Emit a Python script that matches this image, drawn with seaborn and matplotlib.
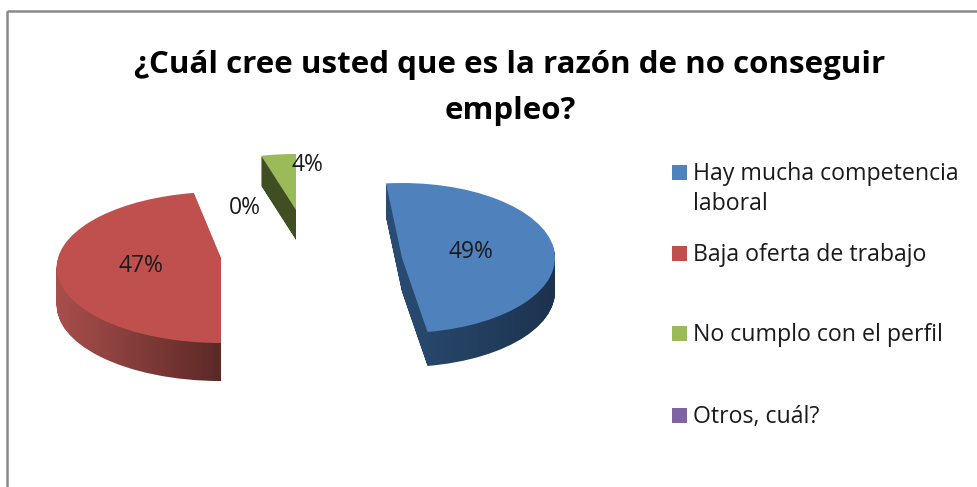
import numpy as np
import seaborn as sns
import matplotlib.pyplot as plt
from matplotlib.colors import LinearSegmentedColormap
from matplotlib.patches import PathPatch, Rectangle
from matplotlib.path import Path
from matplotlib.transforms import Transform

# Chart data
title = "¿Cuál cree usted que es la razón de no conseguir\nempleo?"
categories = ["Hay mucha competencia\nlaboral", "Baja oferta de trabajo", "No cumplo con el perfil", "Otros, cuál?"]
values = [49, 47, 4, 0]

# Colours: top face, then wall gradient left to right
top_colors = sns.color_palette(["#4f81bd", "#c0504d", "#9bbb59", "#8064a2"])
wall_colors = [("#2b4d74", "#1c324e"), ("#a94f4c", "#5c2927"), ("#404f22", "#404f22")]

# Where each slice sits in pixels: cx, cy, rx, ry, perspective, start angle, depth
slice_layout = [
    (402, 258, 153, 75, 0.0, 96, 34),
    (221, 258, 163, 74.4, 0.125, -90, 38),
    (296, 210, 140, 56, 0.0, 104.4, 30),
]
label_pos = [(471, 252), (141, 266), (307, 165), (245, 208)]
legend_y = [172, 253, 333, 415]


class Tilt(Transform):
    # Lays a unit pie wedge flat, with the far edge a bit smaller
    input_dims = output_dims = 2

    def __init__(self, cx, cy, rx, ry, p):
        super().__init__()
        self.vals = (cx, cy, rx, ry, p)

    def transform_non_affine(self, xy):
        cx, cy, rx, ry, p = self.vals
        x, y = np.asarray(xy).T
        w = 1 + p * y
        return np.column_stack([cx + rx * x / w, cy - ry * y / w])


sns.set_theme(style="white")
plt.rcParams["font.family"] = ["Open Sans", "DejaVu Sans"]

fig = plt.figure(figsize=(9.77, 4.87), dpi=100)
ax = fig.add_axes([0, 0, 1, 1])

for i, layout in enumerate(slice_layout):
    cx, cy, rx, ry, p, start, depth = layout
    wedges, _ = ax.pie([values[i] / 100], colors=[top_colors[i]], startangle=start,
                       counterclock=False, normalize=False,
                       wedgeprops={"zorder": 3, "edgecolor": "none", "linewidth": 0})
    wedge = wedges[0]
    tilt = Tilt(cx, cy, rx, ry, p)
    wedge.set_transform(tilt + ax.transData)

    # The wall is the same wedge stacked downward, painted with a gradient
    top_path = tilt.transform_path(wedge.get_path())
    layers = [Path(top_path.vertices + [0, d], top_path.codes) for d in range(1, depth + 1)]
    wall = Path.make_compound_path(*layers)
    clip = PathPatch(wall, transform=ax.transData, facecolor="none", edgecolor="none")
    ax.add_patch(clip)
    x0, y0 = wall.vertices.min(axis=0)
    x1, y1 = wall.vertices.max(axis=0)
    cmap = LinearSegmentedColormap.from_list("wall", wall_colors[i])
    im = ax.imshow(np.linspace(0, 1, 256)[None, :], cmap=cmap, extent=(x0, x1, y1, y0),
                   aspect="auto", zorder=2)
    im.set_clip_path(clip)

ax.set_aspect("auto")
ax.set_xlim(0, 977)
ax.set_ylim(487, 0)
ax.axis("off")

# Chart frame, cut off by the screenshot on the right and bottom
ax.add_patch(Rectangle((6.5, 10.5), 1000, 500, facecolor="none", edgecolor="#8a8a8a", linewidth=1.8))

ax.text(510, 88, title, ha="center", va="center", fontsize=22.5, fontweight="bold",
        color="black", linespacing=1.67)

for v, (x, y) in zip(values, label_pos):
    ax.text(x, y, f"{v:.0f}%", ha="center", va="center", fontsize=16.5, color="#1a1a1a", zorder=5)

for color, label, y in zip(top_colors, categories, legend_y):
    ax.add_patch(Rectangle((671.5, y - 7.5), 15, 15, facecolor=color, edgecolor="none"))
    ax.text(693, y - 10, label, ha="left", va="top", fontsize=16.7, color="#1a1a1a", linespacing=1.34)

fig.savefig("out.png", dpi=100)
